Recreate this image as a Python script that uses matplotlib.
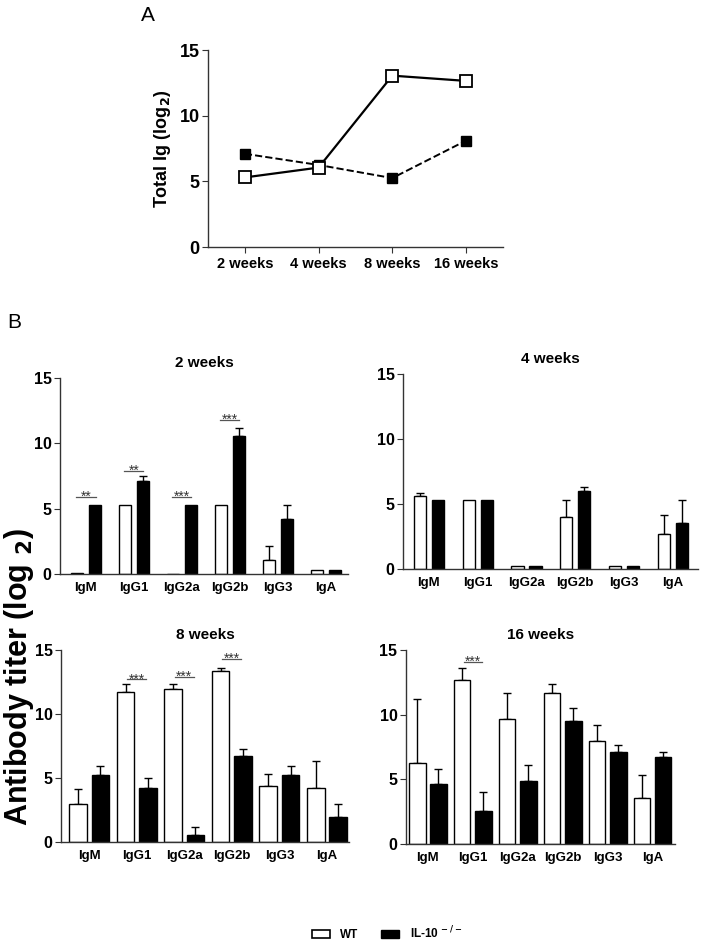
import matplotlib.pyplot as plt
from matplotlib.patches import Patch
import numpy as np

plt.rcParams['font.family'] = ['Liberation Sans', 'DejaVu Sans']
plt.rcParams['font.weight'] = 'bold'

# panel A: total Ig
weeks = ['2 weeks', '4 weeks', '8 weeks', '16 weeks']
total_wt = [5.3, 6.05, 13.05, 12.65]
total_ko = [7.1, 6.25, 5.25, 8.1]

# panel B: isotype titers
isotypes = ['IgM', 'IgG1', 'IgG2a', 'IgG2b', 'IgG3', 'IgA']
wt_2 = [0.05, 5.3, 0.0, 5.3, 1.07, 0.27]
wt_2_err = [0, 0, 0, 0, 1.07, 0]
ko_2 = [5.3, 7.12, 5.3, 10.58, 4.2, 0.27]
ko_2_err = [0, 0.38, 0, 0.62, 1.07, 0]

wt_4 = [5.58, 5.3, 0.25, 4.0, 0.25, 2.67]
wt_4_err = [0.24, 0, 0, 1.31, 0, 1.51]
ko_4 = [5.3, 5.3, 0.22, 5.97, 0.22, 3.54]
ko_4_err = [0, 0, 0, 0.36, 0, 1.77]

wt_8 = [3.0, 11.7, 11.96, 13.36, 4.36, 4.26]
wt_8_err = [1.18, 0.65, 0.39, 0.26, 0.97, 2.08]
ko_8 = [5.27, 4.26, 0.57, 6.74, 5.27, 1.98]
ko_8_err = [0.68, 0.78, 0.6, 0.54, 0.68, 1.0]

wt_16 = [6.3, 12.68, 9.66, 11.67, 8.0, 3.57]
wt_16_err = [4.9, 0.92, 2.03, 0.67, 1.17, 1.74]
ko_16 = [4.66, 2.53, 4.84, 9.53, 7.14, 6.74]
ko_16_err = [1.17, 1.51, 1.25, 0.96, 0.49, 0.37]

# significance: (isotype index, line height, label)
sig_2 = [(0, 5.9, '**'), (1, 7.9, '**'), (2, 5.9, '***'), (3, 11.8, '***')]
sig_8 = [(1, 12.7, '***'), (2, 12.9, '***'), (3, 14.3, '***')]
sig_16 = [(1, 14.05, '***')]

spine_col = '#333333'

fig = plt.figure(figsize=(7.02, 9.44), dpi=100)


def style(ax, ysize):
    for s in ['top', 'right']:
        ax.spines[s].set_visible(False)
    for s in ['left', 'bottom']:
        ax.spines[s].set_color(spine_col)
        ax.spines[s].set_linewidth(1.0)
    ax.set_ylim(0, 15)
    ax.set_yticks([0, 5, 10, 15])
    ax.tick_params(axis='y', direction='out', length=4, color=spine_col,
                   labelsize=ysize, pad=2)
    for lab in ax.get_yticklabels():
        lab.set_fontweight('bold')


# ---- Panel A ----
axA = fig.add_axes([0.2963, 0.7383, 0.420, 0.2087])
style(axA, 13)
x = np.arange(len(weeks))
axA.plot(x, total_wt, '-', color='black', lw=1.6, marker='s', ms=8.5,
         mfc='white', mec='black', mew=1.3, zorder=3)
axA.plot(x, total_ko, '--', color='black', lw=1.4, marker='s', ms=7.5,
         mfc='black', mec='black', zorder=2)
axA.set_xlim(-0.5, 3.5)
axA.set_xticks(x)
axA.set_xticklabels(weeks, fontsize=10.5, fontweight='bold')
axA.tick_params(axis='x', direction='out', length=4, color=spine_col, pad=3)
axA.set_ylabel('Total Ig (log$_\\mathbf{2}$)', fontsize=13, fontweight='bold', labelpad=5)
fig.text(0.211, 0.984, 'A', fontsize=15, fontweight='normal', ha='center', va='center')
fig.text(0.02, 0.658, 'B', fontsize=15, fontweight='normal', ha='center', va='center')


def bars(rect, title, wt, wt_err, ko, ko_err, sig, width, off, xlim):
    ax = fig.add_axes(rect)
    style(ax, 11.5)
    xi = np.arange(len(isotypes))
    ax.bar(xi - off, wt, width, color='white', edgecolor='black', lw=1.0, zorder=2)
    ax.bar(xi + off, ko, width, color='black', edgecolor='black', lw=1.0, zorder=2)
    for xs, v, e in zip(xi - off, wt, wt_err):
        if e > 0:
            ax.errorbar(xs, v, yerr=[[0], [e]], color='black', lw=1.0,
                        capsize=3, capthick=1.0, zorder=1)
    for xs, v, e in zip(xi + off, ko, ko_err):
        if e > 0:
            ax.errorbar(xs, v, yerr=[[0], [e]], color='black', lw=1.0,
                        capsize=3, capthick=1.0, zorder=1)
    for i, h, s in sig:
        ax.plot([i - 0.2, i + 0.2], [h, h], color='#555555', lw=0.9)
        ax.text(i, h - 0.3, s, ha='center', va='baseline', fontsize=10,
                fontweight='normal', color='#333333')
    ax.set_xlim(*xlim)
    ax.set_xticks(xi)
    ax.set_xticklabels(isotypes, fontsize=9.5, fontweight='bold')
    ax.tick_params(axis='x', length=0, pad=6)
    ax.set_title(title, fontsize=11, fontweight='bold', pad=8)
    return ax


bars([0.0855, 0.392, 0.410, 0.2076], '2 weeks', wt_2, wt_2_err, ko_2, ko_2_err,
     sig_2, 0.25, 0.185, (-0.54, 5.46))
bars([0.574, 0.3972, 0.420, 0.2066], '4 weeks', wt_4, wt_4_err, ko_4, ko_4_err,
     [], 0.25, 0.185, (-0.53, 5.51))
bars([0.087, 0.108, 0.410, 0.2034], '8 weeks', wt_8, wt_8_err, ko_8, ko_8_err,
     sig_8, 0.37, 0.235, (-0.59, 5.46))
bars([0.578, 0.1059, 0.383, 0.2055], '16 weeks', wt_16, wt_16_err, ko_16, ko_16_err,
     sig_16, 0.37, 0.235, (-0.49, 5.49))

fig.text(0.027, 0.283, 'Antibody titer (log $_\\mathbf{2}$)', rotation=90,
         fontsize=22, fontweight='bold', ha='center', va='center')

handles = [Patch(facecolor='white', edgecolor='black', lw=1.2),
           Patch(facecolor='black', edgecolor='black')]
fig.legend(handles, ['WT', 'IL-10$^{\\,-/-}$'], ncol=2, loc='center',
           bbox_to_anchor=(0.551, 0.0117), frameon=False, fontsize=8.5,
           handlelength=1.55, handleheight=0.7, columnspacing=1.9,
           handletextpad=0.9, borderpad=0)

plt.savefig('out.png', dpi=100)
